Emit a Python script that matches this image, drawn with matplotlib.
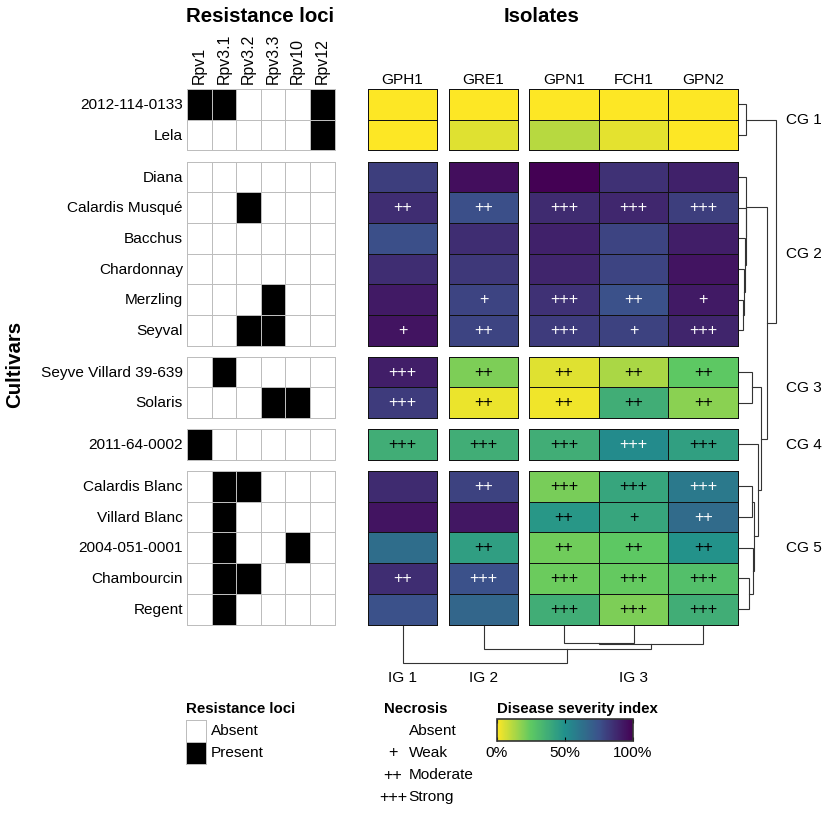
#!/usr/bin/env python3
"""Cultivar resistance loci and disease severity heatmaps with dendrograms."""

import matplotlib

matplotlib.use("Agg")
import matplotlib.pyplot as plt
from matplotlib.cm import ScalarMappable
from matplotlib.colors import LinearSegmentedColormap, ListedColormap, Normalize

plt.rcParams["font.family"] = ["Liberation Sans", "DejaVu Sans"]

# ---------------------------------------------------------------------------
# Data
# ---------------------------------------------------------------------------
CULTIVARS = ["2012-114-0133", "Lela", "Diana", "Calardis Musqué", "Bacchus",
             "Chardonnay", "Merzling", "Seyval", "Seyve Villard 39-639",
             "Solaris", "2011-64-0002", "Calardis Blanc", "Villard Blanc",
             "2004-051-0001", "Chambourcin", "Regent"]
LOCI = ["Rpv1", "Rpv3.1", "Rpv3.2", "Rpv3.3", "Rpv10", "Rpv12"]
ISOLATES = ["GPH1", "GRE1", "GPN1", "FCH1", "GPN2"]

# 1 = locus present, one row per cultivar
LOCI_PRESENT = [
    [1, 1, 0, 0, 0, 1],
    [0, 0, 0, 0, 0, 1],
    [0, 0, 0, 0, 0, 0],
    [0, 0, 1, 0, 0, 0],
    [0, 0, 0, 0, 0, 0],
    [0, 0, 0, 0, 0, 0],
    [0, 0, 0, 1, 0, 0],
    [0, 0, 1, 1, 0, 0],
    [0, 1, 0, 0, 0, 0],
    [0, 0, 0, 1, 1, 0],
    [1, 0, 0, 0, 0, 0],
    [0, 1, 1, 0, 0, 0],
    [0, 1, 0, 0, 0, 0],
    [0, 1, 0, 0, 1, 0],
    [0, 1, 1, 0, 0, 0],
    [0, 1, 0, 0, 0, 0],
]

# disease severity index in %, one row per cultivar
SEVERITY = [
    [0, 0, 0, 0, 0],
    [0, 5, 11, 4, 0],
    [81, 96, 100, 85, 90],
    [86, 76, 87, 88, 81],
    [76, 86, 90, 79, 91],
    [86, 83, 89, 79, 94],
    [92, 79, 85, 75, 92],
    [94, 79, 82, 80, 89],
    [91, 20, 5, 13, 25],
    [82, 3, 2, 37, 18],
    [37, 37, 37, 52, 43],
    [87, 80, 21, 41, 59],
    [94, 93, 47, 41, 65],
    [64, 44, 22, 25, 49],
    [86, 75, 23, 24, 29],
    [75, 67, 37, 20, 37],
]

NECROSIS = [
    ["", "", "", "", ""],
    ["", "", "", "", ""],
    ["", "", "", "", ""],
    ["++", "++", "+++", "+++", "+++"],
    ["", "", "", "", ""],
    ["", "", "", "", ""],
    ["", "+", "+++", "++", "+"],
    ["+", "++", "+++", "+", "+++"],
    ["+++", "++", "++", "++", "++"],
    ["+++", "++", "++", "++", "++"],
    ["+++", "+++", "+++", "+++", "+++"],
    ["", "++", "+++", "+++", "+++"],
    ["", "", "++", "+", "++"],
    ["", "++", "++", "++", "++"],
    ["++", "+++", "+++", "+++", "+++"],
    ["", "", "+++", "+++", "+++"],
]

# (child, child, height); ids past the leaves refer to earlier merges
ROW_MERGES = [(0, 1, 7), (6, 7, 4.3), (5, 17, 5), (4, 18, 6.5), (3, 19, 6.7),
              (2, 20, 7), (8, 9, 13.3), (11, 12, 13.3), (14, 15, 10.3),
              (13, 24, 13.7), (23, 25, 15.3), (10, 26, 19), (22, 27, 21.7),
              (21, 28, 28), (16, 29, 37)]
COL_MERGES = [(2, 3, 17.3), (5, 4, 18), (1, 6, 23.3), (0, 7, 37)]

ROW_GROUPS = [2, 6, 2, 1, 5]
COL_GROUPS = [1, 1, 3]
CG_NAMES = ["CG 1", "CG 2", "CG 3", "CG 4", "CG 5"]
CG_Y = [120, 254, 387.5, 445, 548]
IG_NAMES = ["IG 1", "IG 2", "IG 3"]
LOCI_LEGEND = ["Absent", "Present"]
NECROSIS_SYMBOLS = ["", "+", "++", "+++"]
NECROSIS_LEVELS = ["Absent", "Weak", "Moderate", "Strong"]
SEVERITY_COLOURS = ["#fde725", "#5dc863", "#21908c", "#3b528b", "#440154"]

# ---------------------------------------------------------------------------
# Layout (pixels of the 829x813 figure)
# ---------------------------------------------------------------------------
W, H = 829, 813
ROW_TOPS = [89, 161.5, 356.7, 429, 471]
ROW_H = 30.7
LOCI_X0, LOCI_W = 187, 24.6
ISO_X0 = [367.7, 448.7, 529]
ISO_W = 69.7
FS = 11.1
PLUS_FS = 11.6
CELL_LW = 0.7

fig = plt.figure(figsize=(W / 100, H / 100), dpi=100)


def px_axes(x0, y0, x1, y1):
    ax = fig.add_axes([x0 / W, 1 - y1 / H, (x1 - x0) / W, (y1 - y0) / H])
    ax.set_axis_off()
    return ax


def fig_text(x, y, s, **kw):
    kw.setdefault("fontsize", FS)
    kw.setdefault("va", "center")
    kw.setdefault("ha", "left")
    return fig.text(x / W, 1 - y / H, s, **kw)


def draw_dendrogram(ax, leaf_pos, merges, vertical):
    """Draw merges as brackets, leaf_pos gives the leaf positions."""
    nodes = [(p, 0) for p in leaf_pos]
    for a, b, h in merges:
        pa, ha = nodes[a]
        pb, hb = nodes[b]
        along = [pa, pa, pb, pb]
        up = [ha, h, h, hb]
        if vertical:
            ax.plot(up, along, color="#333333", lw=0.8, solid_joinstyle="miter")
        else:
            ax.plot(along, up, color="#333333", lw=0.8, solid_joinstyle="miter")
        nodes.append(((pa + pb) / 2, h))


sev_cmap = LinearSegmentedColormap.from_list("severity", SEVERITY_COLOURS)
sev_norm = Normalize(0, 100)
loci_cmap = ListedColormap(["white", "black"])

# ---------------------------------------------------------------------------
# Heatmaps
# ---------------------------------------------------------------------------
row_centers = []
start = 0
for top, n_rows in zip(ROW_TOPS, ROW_GROUPS):
    stop = start + n_rows
    bottom = top + n_rows * ROW_H

    # resistance loci block
    ax = px_axes(LOCI_X0, top, LOCI_X0 + LOCI_W * len(LOCI), bottom)
    ax.pcolormesh(LOCI_PRESENT[start:stop], cmap=loci_cmap, vmin=0, vmax=1,
                  edgecolors="#bdbdbd", linewidth=CELL_LW, clip_on=False)
    ax.set_ylim(n_rows, 0)

    # isolate blocks
    col = 0
    for x0, n_cols in zip(ISO_X0, COL_GROUPS):
        ax = px_axes(x0, top, x0 + n_cols * ISO_W, bottom)
        vals = [r[col:col + n_cols] for r in SEVERITY[start:stop]]
        ax.pcolormesh(vals, cmap=sev_cmap, norm=sev_norm, edgecolors="#111111",
                      linewidth=CELL_LW, clip_on=False)
        ax.set_ylim(n_rows, 0)
        for i, row in enumerate(vals):
            for j, v in enumerate(row):
                ink = "white" if v > 50 else "black"
                ax.text(j + 0.5, i + 0.5, NECROSIS[start + i][col + j],
                        ha="center", va="center", color=ink, fontsize=PLUS_FS)
        col += n_cols

    for i in range(n_rows):
        yc = top + (i + 0.5) * ROW_H
        row_centers.append(yc)
        fig_text(183, yc + 0.7, CULTIVARS[start + i], ha="right")
    start = stop

# column labels
for j, name in enumerate(LOCI):
    fig_text(LOCI_X0 + (j + 0.5) * LOCI_W, 84, name, rotation=90,
             ha="center", va="bottom", fontsize=11.4)

iso_centers = []
col = 0
for x0, n_cols in zip(ISO_X0, COL_GROUPS):
    for j in range(n_cols):
        iso_centers.append(x0 + (j + 0.5) * ISO_W)
        fig_text(iso_centers[-1], 80, ISOLATES[col + j], ha="center")
    col += n_cols

fig_text(260, 16, "Resistance loci", ha="center", fontsize=14.7, fontweight="bold")
fig_text(541.7, 16, "Isolates", ha="center", fontsize=14.7, fontweight="bold")
fig_text(15, 364, "Cultivars", ha="center", rotation=90, fontsize=14.7,
         fontweight="bold")

# ---------------------------------------------------------------------------
# Dendrograms
# ---------------------------------------------------------------------------
ax = px_axes(739, 0, 779, H)
ax.set_xlim(0, 40)
ax.set_ylim(H, 0)
draw_dendrogram(ax, row_centers, ROW_MERGES, vertical=True)

ax = px_axes(0, 626, W, 666)
ax.set_xlim(0, W)
ax.set_ylim(40, 0)
draw_dendrogram(ax, iso_centers, COL_MERGES, vertical=False)

for name, y in zip(CG_NAMES, CG_Y):
    fig_text(786, y, name)
ig_x = [iso_centers[0], iso_centers[1], iso_centers[3]]
for name, x in zip(IG_NAMES, ig_x):
    fig_text(x, 678, name, ha="center")

# ---------------------------------------------------------------------------
# Legends
# ---------------------------------------------------------------------------
LEG_Y = [730.5, 752.5, 775, 797]

fig_text(185.7, 708.7, "Resistance loci", fontsize=10.8, fontweight="bold")
ax = px_axes(186, 719.5, 206.5, 763.5)
ax.pcolormesh([[0], [1]], cmap=loci_cmap, vmin=0, vmax=1, edgecolors="#bdbdbd",
              linewidth=CELL_LW, clip_on=False)
ax.set_ylim(2, 0)
for label, y in zip(LOCI_LEGEND, LEG_Y):
    fig_text(210.7, y, label)

fig_text(384.3, 708.7, "Necrosis", fontsize=10.8, fontweight="bold")
for sym, label, y in zip(NECROSIS_SYMBOLS, NECROSIS_LEVELS, LEG_Y):
    fig_text(393, y, sym, ha="center", fontsize=PLUS_FS)
    fig_text(408.7, y, label)

fig_text(496.7, 708.7, "Disease severity index", fontsize=10.8, fontweight="bold")
cax = fig.add_axes([497 / W, 1 - 740.7 / H, 136 / W, 21.7 / H])
cb = fig.colorbar(ScalarMappable(norm=sev_norm, cmap=sev_cmap), cax=cax,
                  orientation="horizontal")
cb.set_ticks([0, 50, 100], labels=["0%", "50%", "100%"])
cb.outline.set_edgecolor("#333333")
cb.outline.set_linewidth(1.2)
cax.tick_params(axis="x", top=True, bottom=True, direction="in", length=3,
                width=0.8, labelsize=FS, pad=4)

fig.savefig("out.png", dpi=100)
plt.close(fig)
